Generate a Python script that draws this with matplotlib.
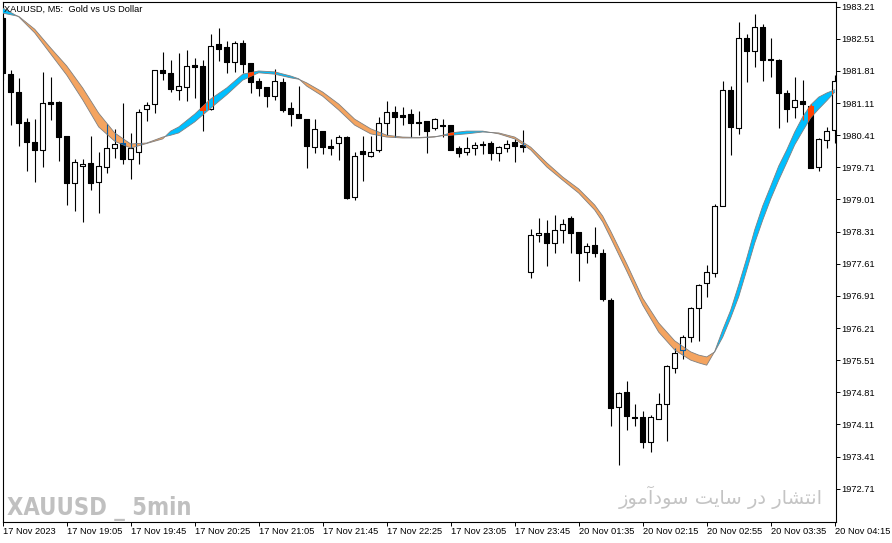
import numpy as np
import matplotlib
matplotlib.use("Agg")
import matplotlib.pyplot as plt
from matplotlib.collections import LineCollection, PatchCollection
from matplotlib.patches import Rectangle
from matplotlib.path import Path


# XAUUSD M5 bars, 17 Nov 18:25 .. 20 Nov 04:15 (one value per bar)
opens = [
    1982.96, 1981.74, 1981.35, 1980.70, 1980.26, 1980.09, 1981.13, 1981.13, 1980.39, 1979.37,
    1979.74, 1979.81, 1979.39, 1979.72, 1980.13, 1980.24, 1979.89, 1980.04, 1980.98, 1981.09,
    1981.83, 1981.77, 1981.40, 1981.46, 1981.94, 1981.92, 1980.98, 1982.40, 1982.33, 1982.00,
    1982.42, 1981.98, 1981.59, 1981.46, 1981.26, 1981.57, 1981.00, 1980.87, 1980.76, 1980.15,
    1980.50, 1980.18, 1980.24, 1980.37, 1979.06, 1980.07, 1979.96, 1980.09, 1980.68, 1980.92,
    1980.85, 1980.87, 1980.70, 1980.72, 1980.57, 1980.63, 1980.63, 1980.13, 1980.04, 1980.13,
    1980.22, 1980.24, 1980.02, 1980.13, 1980.26, 1980.20, 1977.43, 1978.24, 1978.28, 1978.06,
    1978.35, 1978.61, 1978.30, 1977.87, 1978.02, 1977.84, 1976.82, 1974.49, 1974.82, 1974.27,
    1974.27, 1973.73, 1974.23, 1974.56, 1975.34, 1975.73, 1976.01, 1976.65, 1977.19, 1977.41,
    1978.87, 1981.40, 1980.57, 1982.53, 1982.25, 1982.77, 1982.07, 1982.05, 1981.33, 1981.02,
    1981.16, 1981.05, 1979.72, 1980.31, 1980.52,
]
highs = [
    1983.01, 1981.83, 1981.66, 1980.79, 1980.76, 1981.79, 1981.68, 1981.15, 1980.40, 1979.89,
    1979.89, 1980.39, 1980.04, 1980.66, 1980.55, 1981.11, 1980.46, 1980.98, 1981.13, 1981.84,
    1982.22, 1982.05, 1982.20, 1982.27, 1982.09, 1982.05, 1982.62, 1982.75, 1982.46, 1982.46,
    1982.49, 1981.99, 1981.66, 1981.47, 1981.85, 1981.66, 1981.13, 1981.48, 1980.77, 1980.76,
    1980.51, 1980.33, 1980.41, 1980.39, 1980.04, 1980.39, 1980.39, 1980.81, 1981.16, 1981.05,
    1981.02, 1980.98, 1980.94, 1980.73, 1980.79, 1980.76, 1980.64, 1980.18, 1980.37, 1980.26,
    1980.28, 1980.28, 1980.18, 1980.31, 1980.33, 1980.52, 1978.37, 1978.61, 1978.56, 1978.67,
    1978.59, 1978.65, 1978.31, 1978.06, 1978.41, 1977.93, 1976.86, 1974.82, 1975.06, 1974.56,
    1974.40, 1974.31, 1974.79, 1975.40, 1975.77, 1976.06, 1976.67, 1977.16, 1977.58, 1978.91,
    1981.59, 1981.48, 1982.88, 1982.62, 1983.05, 1982.83, 1982.53, 1982.06, 1981.40, 1981.68,
    1981.61, 1981.09, 1980.35, 1980.59, 1981.72,
]
lows = [
    1981.61, 1980.63, 1980.18, 1979.63, 1979.39, 1979.72, 1980.74, 1979.85, 1978.89, 1978.76,
    1978.52, 1979.22, 1978.72, 1979.59, 1979.91, 1979.78, 1979.46, 1979.78, 1980.72, 1980.89,
    1981.61, 1981.35, 1981.18, 1981.16, 1981.22, 1980.50, 1980.96, 1982.03, 1981.77, 1981.79,
    1981.77, 1981.33, 1981.26, 1981.02, 1981.18, 1980.92, 1980.61, 1980.78, 1979.70, 1980.02,
    1980.00, 1979.98, 1979.87, 1979.02, 1979.00, 1979.41, 1979.94, 1980.04, 1980.41, 1980.37,
    1980.63, 1980.37, 1980.41, 1980.02, 1980.52, 1980.37, 1980.08, 1979.94, 1979.98, 1979.98,
    1980.00, 1979.87, 1979.85, 1980.04, 1979.83, 1980.04, 1977.30, 1978.08, 1977.56, 1977.84,
    1978.06, 1977.84, 1977.23, 1977.63, 1977.76, 1976.80, 1974.08, 1973.23, 1973.99, 1974.08,
    1973.60, 1973.51, 1974.22, 1973.75, 1975.23, 1975.53, 1975.91, 1975.93, 1976.89, 1977.32,
    1978.86, 1979.98, 1980.44, 1981.57, 1981.90, 1981.59, 1981.68, 1980.57, 1980.70, 1980.79,
    1980.74, 1979.69, 1979.63, 1980.13, 1980.24,
]
closes = [
    1981.77, 1981.35, 1980.68, 1980.26, 1980.09, 1981.11, 1981.09, 1980.37, 1979.37, 1979.83,
    1979.78, 1979.37, 1979.74, 1980.13, 1980.22, 1979.89, 1980.13, 1980.92, 1981.07, 1981.83,
    1981.77, 1981.42, 1981.48, 1981.92, 1981.90, 1980.96, 1982.35, 1982.29, 1982.00, 1982.42,
    1981.96, 1981.57, 1981.44, 1981.26, 1981.59, 1980.96, 1980.87, 1980.79, 1980.18, 1980.55,
    1980.15, 1980.13, 1980.37, 1979.04, 1979.96, 1980.00, 1980.04, 1980.68, 1980.92, 1980.81,
    1980.81, 1980.68, 1980.68, 1980.50, 1980.76, 1980.61, 1980.09, 1980.02, 1980.13, 1980.20,
    1980.20, 1980.02, 1980.15, 1980.22, 1980.18, 1980.15, 1978.24, 1978.28, 1978.06, 1978.35,
    1978.48, 1978.28, 1977.84, 1978.00, 1977.84, 1976.84, 1974.47, 1974.79, 1974.29, 1974.25,
    1973.73, 1974.27, 1974.56, 1975.38, 1975.67, 1976.01, 1976.65, 1977.15, 1977.43, 1978.87,
    1981.40, 1980.59, 1982.53, 1982.25, 1982.77, 1982.05, 1982.05, 1981.33, 1980.98, 1981.18,
    1981.09, 1979.70, 1980.33, 1980.50, 1981.59,
]

# two moving averages of the cloud indicator, read at these bars
band_bars = [
    0, 2, 4, 6, 8, 10, 12, 14, 16, 18, 20, 21, 22, 24, 26, 28, 30, 32, 34, 36,
    37, 38, 40, 42, 44, 46, 48, 50, 52, 54, 55, 56, 58, 60, 61, 62, 64, 66, 68, 70,
    72, 74, 75, 76, 78, 80, 82, 84, 86, 87, 88, 89, 90, 91, 92, 93, 94, 95, 96, 97,
    98, 99, 100, 101, 102, 103, 104,
]
fast_ma = [
    1983.18, 1982.99, 1982.64, 1982.18, 1981.72, 1981.18, 1980.59, 1980.28, 1980.13, 1980.23,
    1980.33, 1980.50, 1980.59, 1980.87, 1981.20, 1981.44, 1981.74, 1981.81, 1981.79, 1981.70,
    1981.64, 1981.48, 1981.26, 1980.96, 1980.63, 1980.44, 1980.37, 1980.35, 1980.35, 1980.37,
    1980.41, 1980.46, 1980.50, 1980.50, 1980.47, 1980.44, 1980.33, 1980.09, 1979.72, 1979.43,
    1979.15, 1978.78, 1978.52, 1978.17, 1977.45, 1976.71, 1976.12, 1975.73, 1975.51, 1975.45,
    1975.40, 1975.70, 1976.17, 1976.60, 1977.15, 1977.73, 1978.35, 1978.87, 1979.30, 1979.74,
    1980.09, 1980.48, 1980.81, 1981.07, 1981.24, 1981.33, 1981.40,
]
slow_ma = [
    1983.07, 1983.00, 1982.72, 1982.31, 1981.92, 1981.44, 1980.89, 1980.46, 1980.22, 1980.24,
    1980.37, 1980.41, 1980.46, 1980.70, 1981.00, 1981.29, 1981.61, 1981.77, 1981.74, 1981.66,
    1981.63, 1981.55, 1981.35, 1981.09, 1980.76, 1980.55, 1980.41, 1980.37, 1980.36, 1980.38,
    1980.40, 1980.41, 1980.44, 1980.48, 1980.47, 1980.46, 1980.37, 1980.15, 1979.81, 1979.50,
    1979.24, 1978.89, 1978.65, 1978.32, 1977.61, 1976.86, 1976.32, 1975.93, 1975.69, 1975.62,
    1975.58, 1975.69, 1976.01, 1976.43, 1976.89, 1977.47, 1978.06, 1978.56, 1979.02, 1979.43,
    1979.81, 1980.20, 1980.50, 1980.79, 1980.98, 1981.16, 1981.35,
]

tick_bars = list(range(0, 105, 8))
tick_labels = [
    "17 Nov 2023", "17 Nov 19:05", "17 Nov 19:45", "17 Nov 20:25", "17 Nov 21:05",
    "17 Nov 21:45", "17 Nov 22:25", "17 Nov 23:05", "17 Nov 23:45", "20 Nov 01:35",
    "20 Nov 02:15", "20 Nov 02:55", "20 Nov 03:35", "20 Nov 04:15",
]
price_ticks = [round(1972.71 + 0.70 * k, 2) for k in range(16)]

# "انتشار در سایت سودآموز" in presentation forms, visual order (matplotlib has no shaping)
persian_note = ("\uFEAF\uFEEE\uFEE3\uFE81\uFEA9\uFEEE\uFEB3 \uFE96\uFBFE\uFE8E\uFEB3 "
                "\uFEAD\uFEA9 \uFEAD\uFE8E\uFEB8\uFE98\uFEE7\uFE8D")

ORANGE = "#f4a460"
BLUE = "#00bfff"

plt.rcParams["font.family"] = ["Liberation Sans", "DejaVu Sans"]


def draw_candles(ax, ink, hollow_face, zorder, clip=None):
    o, h, l, c = (np.asarray(v) for v in (opens, highs, lows, closes))
    x = np.arange(len(o))
    top = np.maximum(o, c)
    bot = np.minimum(o, c)
    segs = [[(xi, hi), (xi, ti)] for xi, hi, ti in zip(x, h, top)]
    segs += [[(xi, bi), (xi, li)] for xi, bi, li in zip(x, bot, l)]
    wicks = LineCollection(segs, colors=ink, linewidths=0.8, zorder=zorder)
    rects = [Rectangle((xi - 0.28, bi), 0.56, ti - bi) for xi, bi, ti in zip(x, bot, top)]
    faces = [ink if ci < oi else hollow_face for oi, ci in zip(o, c)]
    bodies = PatchCollection(rects, facecolors=faces, edgecolors=ink,
                             linewidths=0.8, zorder=zorder)
    ax.add_collection(wicks)
    ax.add_collection(bodies)
    if clip is not None:
        wicks.set_clip_path(clip, ax.transData)
        bodies.set_clip_path(clip, ax.transData)


fig = plt.figure(figsize=(8.92, 5.43), dpi=100)
ax = fig.add_axes([2.7 / 892, 21.3 / 543, 833.3 / 892, 519.4 / 543])

draw_candles(ax, "black", "white", zorder=2)

bx = np.asarray(band_bars, dtype=float)
fast = np.asarray(fast_ma)
slow = np.asarray(slow_ma)
down = ax.fill_between(bx, fast, slow, where=fast <= slow, interpolate=True,
                       color=ORANGE, lw=0, zorder=3)
up = ax.fill_between(bx, fast, slow, where=fast >= slow, interpolate=True,
                     color=BLUE, lw=0, zorder=3)
ax.plot(bx, fast, color="#808080", lw=0.6, zorder=3.5)
ax.plot(bx, slow, color="#808080", lw=0.6, zorder=3.5)

# MT5 draws the filling inverted over candle pixels
for coll, ink in ((down, "#0b5b9f"), (up, "#ff4000")):
    clip = Path.make_compound_path(*coll.get_paths())
    draw_candles(ax, ink, "none", zorder=4, clip=clip)

ax.set_xlim(0, 104.16)
ax.set_ylim(1971.99, 1983.306)

ax.yaxis.tick_right()
ax.set_yticks(price_ticks)
ax.set_yticklabels([f"{v:.2f}" for v in price_ticks])
ax.set_xticks(tick_bars)
ax.set_xticklabels(tick_labels, ha="left")
ax.tick_params(axis="y", direction="out", length=3, width=0.7, pad=1, labelsize=6.7)
ax.tick_params(axis="x", direction="out", length=3, width=0.7, pad=1, labelsize=6.7)
for sp in ax.spines.values():
    sp.set_linewidth(0.8)
    sp.set_color("black")

fig.text(4 / 892, 1 - 9.5 / 543, "XAUUSD, M5:  Gold vs US Dollar", fontsize=6.7,
         ha="left", va="center")
fig.text(7 / 892, 1 - 515 / 543, "XAUUSD _ 5min", fontsize=17, weight="bold",
         family=["DejaVu Sans"], stretch="condensed", color="#c0c0c0",
         ha="left", va="baseline")
fig.text(823 / 892, 1 - 497 / 543, persian_note, fontsize=14, color="#c4c4c4",
         family=["DejaVu Sans"], ha="right", va="center")

fig.savefig("out.png", dpi=100)
